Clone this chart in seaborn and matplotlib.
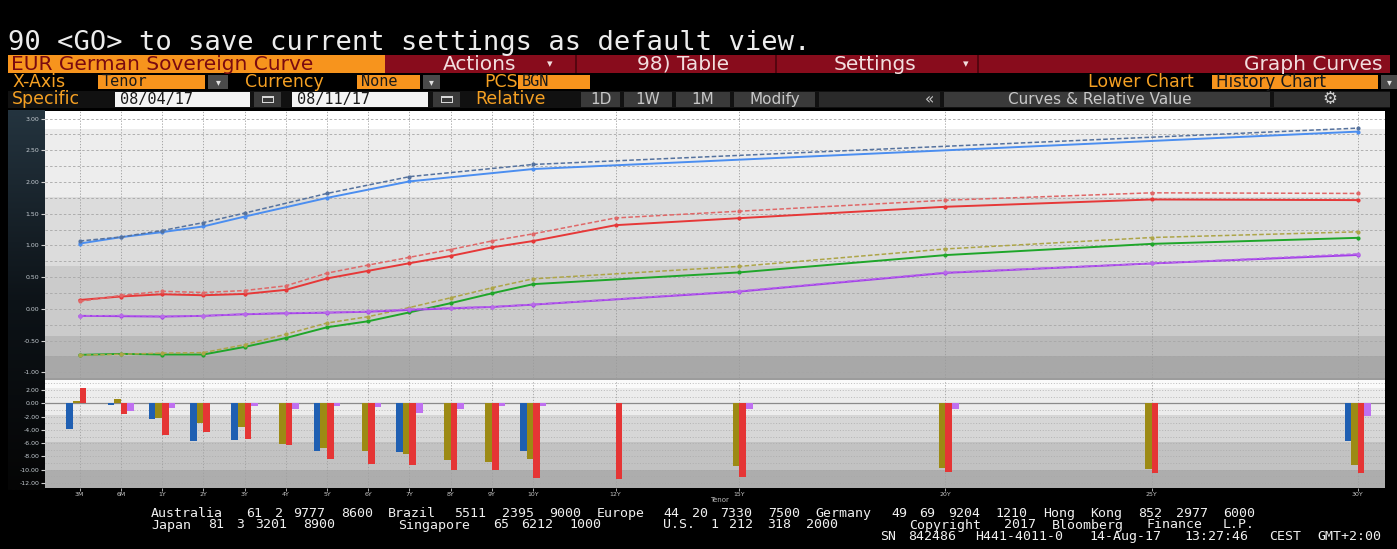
import numpy as np
import pandas as pd
import matplotlib
matplotlib.use("Agg")
import matplotlib.pyplot as plt
from matplotlib.patches import Rectangle
from matplotlib.colors import LinearSegmentedColormap
from matplotlib.ticker import FormatStrFormatter, MultipleLocator
import seaborn as sns

nan = np.nan

# ---------------- data ----------------
TENORS = ["3M", "6M", "1Y", "2Y", "3Y", "4Y", "5Y", "6Y", "7Y", "8Y", "9Y",
          "10Y", "12Y", "15Y", "20Y", "25Y", "30Y"]
TENOR_POS = [-1, 0, 1, 2, 3, 4, 5, 6, 7, 8, 9, 10, 12, 15, 20, 25, 30]

# yields (%) on 08/11/17 (solid) and 08/04/17 (dashed)
BLUE_NEW = [1.03, 1.13, 1.21, 1.30, 1.455, nan, 1.75, nan, 2.01, nan, nan,
            2.205, nan, nan, nan, nan, 2.795]
BLUE_OLD = [1.07, 1.133, 1.235, 1.36, 1.51, nan, 1.82, nan, 2.085, nan, nan,
            2.277, nan, nan, nan, nan, 2.85]
RED_NEW = [0.14, 0.195, 0.23, 0.215, 0.235, 0.30, 0.48, 0.60, 0.72, 0.835,
           0.97, 1.07, 1.32, 1.43, 1.61, 1.725, 1.715]
RED_OLD = [0.118, 0.212, 0.278, 0.258, 0.289, 0.363, 0.564, 0.691, 0.813,
           0.936, 1.071, 1.183, 1.434, 1.54, 1.713, 1.83, 1.82]
GREEN_NEW = [-0.725, -0.71, -0.72, -0.72, -0.60, -0.46, -0.29, -0.195, -0.055,
             0.09, 0.245, 0.39, nan, 0.575, 0.848, 1.025, 1.12]
OLIVE_OLD = [-0.729, -0.716, -0.698, -0.69, -0.565, -0.40, -0.223, -0.123,
             0.021, 0.175, 0.333, 0.474, nan, 0.67, 0.945, 1.125, 1.215]
PURPLE_NEW = [-0.11, -0.115, -0.122, -0.11, -0.085, -0.07, -0.06, -0.045,
              -0.017, 0.009, 0.03, 0.067, nan, 0.273, 0.567, 0.716, 0.85]
PURPLE_OLD = [-0.11, -0.104, -0.115, -0.11, -0.081, -0.061, -0.056, -0.04,
              -0.003, 0.018, 0.033, 0.07, nan, 0.282, 0.576, 0.716, 0.869]

# changes (bp), lower history chart
BAR_BLUE = [-3.9, -0.3, -2.4, -5.6, -5.5, nan, -7.2, nan, -7.3, nan, nan,
            -7.2, nan, nan, nan, nan, -5.6]
BAR_OLIVE = [0.4, 0.6, -2.16, -3.0, -3.5, -6.1, -6.7, -7.2, -7.6, -8.5, -8.8,
             -8.4, nan, -9.45, -9.7, -9.95, -9.35]
BAR_RED = [2.26, -1.66, -4.8, -4.3, -5.4, -6.3, -8.4, -9.1, -9.3, -10.1,
           -10.1, -11.3, -11.4, -11.05, -10.3, -10.55, -10.45]
BAR_PURPLE = [nan, -1.1, -0.65, nan, -0.35, -0.9, -0.35, -0.5, -1.4, -0.9,
              -0.35, -0.35, nan, -0.9, -0.9, nan, -1.86]

UPPER_TICKS = [-1.0, -0.5, 0.0, 0.5, 1.0, 1.5, 2.0, 2.5, 3.0]
LOWER_TICKS = [-12, -10, -8, -6, -4, -2, 0, 2]

# ---------------- figure helpers ----------------
W, H = 1397, 549
fig = plt.figure(figsize=(W / 100, H / 100), dpi=100, facecolor="black")

def fx(x):
    return x / W

def fy(y):
    return 1 - y / H

def box(x0, y0, x1, y1, color, z=1):
    fig.add_artist(Rectangle((fx(x0), fy(y1)), (x1 - x0) / W, (y1 - y0) / H,
                             transform=fig.transFigure, facecolor=color,
                             edgecolor="none", zorder=z))

def label(x, y, s, **kw):
    kw.setdefault("va", "center")
    kw.setdefault("ha", "left")
    fig.text(fx(x), fy(y), s, **kw)

def words(x0, y, s, pitch, **kw):
    idx = 0
    for w in s.split(" "):
        if w:
            label(x0 + idx * pitch, y, w, va="baseline", **kw)
        idx += len(w) + 1

MONO = "DejaVu Sans Mono"
SANS = "DejaVu Sans"
ORANGE = "#f7941d"
ORANGE_TXT = "#f5a023"
DARKRED = "#880c1c"

# ---------------- header ----------------
label(8, 43, "90 <GO> to save current settings as default view.",
      family=MONO, fontsize=19.5, color="#ececec")

# row 2
box(8, 55, 385, 73, ORANGE)
label(11, 64.5, "EUR German Sovereign Curve", family=SANS, fontsize=14.5,
      color="#7a0a10")
box(385, 55, 1390, 73, DARKRED)
for xs in (576, 776, 978):
    box(xs - 1, 55, xs + 1, 73, "#55050f", z=2)
hdr = dict(family=SANS, fontsize=14.5, color="#f2dede", zorder=3)
label(480, 64.5, "Actions", ha="center", **hdr)
label(550, 64, "\u25be", ha="center", family=SANS, fontsize=8, color="#f2dede", zorder=3)
label(683, 64.5, "98) Table", ha="center", **hdr)
label(875, 64.5, "Settings", ha="center", **hdr)
label(966, 64, "\u25be", ha="center", family=SANS, fontsize=8, color="#f2dede", zorder=3)
label(1383, 64.5, "Graph Curves", ha="right", **hdr)

# row 3
r3 = 82
otxt = dict(family=SANS, fontsize=12.5, color=ORANGE_TXT)
btxt = dict(family=MONO, fontsize=11, color="#1a1a1a", zorder=3)
label(12, r3, "X-Axis", **otxt)
box(98, 75, 205, 89, ORANGE)
label(102, r3, "Tenor", **btxt)
box(208, 75, 228, 89, "#4a4a4a")
label(218, r3, "\u25be", ha="center", family=SANS, fontsize=7, color="#e0e0e0", zorder=3)
label(245, r3, "Currency", **otxt)
box(357, 75, 420, 89, ORANGE)
label(361, r3, "None", **btxt)
box(423, 75, 440, 89, "#4a4a4a")
label(431.5, r3, "\u25be", ha="center", family=SANS, fontsize=7, color="#e0e0e0", zorder=3)
label(484, r3, "PCS", **otxt)
box(518, 75, 590, 89, ORANGE)
label(522, r3, "BGN", **btxt)
label(1088, r3, "Lower Chart", **otxt)
box(1212, 75, 1378, 89, ORANGE)
label(1216, r3, "History Chart", family=SANS, fontsize=12, color="#1a1a1a", zorder=3)
box(1381, 75, 1397, 89, "#4a4a4a")
label(1389, r3, "\u25be", ha="center", family=SANS, fontsize=7, color="#e0e0e0", zorder=3)

# row 4
r4 = 99.5
box(8, 91, 1390, 108, "#111111", z=0.5)
label(12, r4, "Specific", **otxt)
box(115, 92, 250, 107, "#f4f4f4")
label(120, r4, "08/04/17", **btxt)
box(254, 92, 281, 107, "#3a3a3a")
box(262, 96, 274, 103, "#d8d8d8", z=2)
box(263, 98, 273, 102, "#3a3a3a", z=3)
box(292, 92, 428, 107, "#f4f4f4")
label(297, r4, "08/11/17", **btxt)
box(433, 92, 460, 107, "#3a3a3a")
box(441, 96, 453, 103, "#d8d8d8", z=2)
box(442, 98, 452, 102, "#3a3a3a", z=3)
label(475, r4, "Relative", **otxt)
gtxt = dict(family=SANS, fontsize=11, color="#c8c8c8", zorder=3)
for (a, b, t) in [(581, 620, "1D"), (624, 672, "1W"), (676, 730, "1M"),
                  (734, 815, "Modify")]:
    box(a, 92, b, 107, "#3a3a3a")
    label((a + b) / 2, r4, t, ha="center", **gtxt)
box(819, 92, 940, 107, "#2a2a2a")
label(930, r4, "\u00ab", ha="center", **gtxt)
box(944, 92, 1270, 107, "#3a3a3a")
label(1100, r4, "Curves & Relative Value", ha="center", **gtxt)
box(1274, 92, 1390, 107, "#2e2e2e")
label(1330, r4, "\u2699", ha="center", family=SANS, fontsize=12, color="#d0d0d0", zorder=3)

# ---------------- left label panel ----------------
pan = fig.add_axes([fx(8), fy(490), (45 - 8) / W, (490 - 110) / H])
grad = np.linspace(0, 1, 256).reshape(-1, 1)
pcmap = LinearSegmentedColormap.from_list("p", ["#24343f", "#0d1318", "#050505"])
pan.imshow(grad, aspect="auto", cmap=pcmap, extent=[0, 1, 0, 1], origin="upper")
pan.axis("off")

# ---------------- upper chart ----------------
ax1 = fig.add_axes([fx(45), fy(378), (1385 - 45) / W, (378 - 111) / H])
ax1.set_facecolor("#cccccc")
bands_up = [(2.84, 3.2, "#ffffff"), (1.76, 2.84, "#ededed"),
            (0.67, 1.76, "#dcdcdc"), (-0.42, 0.67, "#cbcbcb"),
            (-0.75, -0.42, "#b9b9b9"), (-1.2, -0.75, "#a8a8a8")]
for lo, hi, c in bands_up:
    ax1.axhspan(lo, hi, color=c, lw=0, zorder=0)

line_series = [
    (BLUE_NEW, "#4b8ef0", "-", 1.4),
    (BLUE_OLD, "#55729e", (0, (3, 1.5)), 1.1),
    (RED_NEW, "#e63838", "-", 1.4),
    (RED_OLD, "#df6868", (0, (3, 1.5)), 1.1),
    (GREEN_NEW, "#1fa62a", "-", 1.4),
    (OLIVE_OLD, "#ada548", (0, (3, 1.5)), 1.1),
    (PURPLE_NEW, "#a23ee8", "-", 1.4),
    (PURPLE_OLD, "#b86be8", (0, (3, 1.5)), 1.0),
]
for vals, color, ls, lw in line_series:
    d = pd.DataFrame({"pos": TENOR_POS, "value": vals}).dropna()
    sns.lineplot(data=d, x="pos", y="value", color=color, linestyle=ls, lw=lw,
                 marker="o", markersize=3, markeredgewidth=0, ax=ax1,
                 zorder=3)

ax1.set_xlim(-1.84, 30.66)
ax1.set_ylim(-1.09, 3.12)
ax1.set_xticks(TENOR_POS)
ax1.tick_params(axis="x", length=0, labelbottom=False)
ax1.set_yticks(UPPER_TICKS)
ax1.yaxis.set_minor_locator(MultipleLocator(0.25))
ax1.yaxis.set_major_formatter(FormatStrFormatter("%.2f"))
ax1.tick_params(axis="y", which="major", labelsize=4.5, labelcolor="#c5ccd2",
                color="#d0d0d0", length=3, width=0.8, pad=1)
ax1.tick_params(axis="y", which="minor", length=0)
ax1.set_axisbelow(True)
ax1.grid(axis="x", color="#9a9a9a", lw=0.6, ls=(0, (1.5, 2)))
ax1.grid(axis="y", which="both", color="#a6a6a6", lw=0.6, ls=(0, (3, 2.5)))
ax1.set_xlabel("")
ax1.set_ylabel("")
for s in ax1.spines.values():
    s.set_visible(False)

box(45, 378, 1385, 380, "#9c9c9c", z=2)

# ---------------- lower chart ----------------
ax2 = fig.add_axes([fx(45), fy(488), (1385 - 45) / W, (488 - 380) / H])
ax2.set_facecolor("#c2c2c2")
bands_lo = [(2.25, 4, "#fafafa"), (-1.76, 2.25, "#ececec"),
            (-5.8, -1.76, "#d6d6d6"), (-10.0, -5.8, "#c2c2c2"),
            (-14, -10.0, "#adadad")]
for lo, hi, c in bands_lo:
    ax2.axhspan(lo, hi, color=c, lw=0, zorder=0)

bars = pd.DataFrame({
    "pos": TENOR_POS * 4,
    "change": BAR_BLUE + BAR_OLIVE + BAR_RED + BAR_PURPLE,
    "curve": ["blue"] * 17 + ["olive"] * 17 + ["red"] * 17 + ["purple"] * 17,
}).dropna()
sns.barplot(data=bars, x="pos", y="change", hue="curve",
            hue_order=["blue", "olive", "red", "purple"],
            palette={"blue": "#1f5fb2", "olive": "#9c8a14",
                     "red": "#e53535", "purple": "#bf70f0"},
            native_scale=True, width=0.64, errorbar=None, linewidth=0,
            saturation=1, legend=False, ax=ax2, zorder=3)
ax2.axhline(0, color="#8a8a8a", lw=0.9, zorder=2)

ax2.set_xlim(-1.84, 30.66)
ax2.set_ylim(-12.74, 3.5)
ax2.set_xticks(TENOR_POS)
ax2.set_xticklabels(TENORS)
ax2.tick_params(axis="x", labelsize=4.5, labelcolor="#c8c8c8", length=2,
                color="#c8c8c8", width=0.6, pad=1)
ax2.set_yticks(LOWER_TICKS)
ax2.yaxis.set_minor_locator(MultipleLocator(1))
ax2.yaxis.set_major_formatter(FormatStrFormatter("%.2f"))
ax2.tick_params(axis="y", which="major", labelsize=4.5, labelcolor="#c5ccd2",
                color="#d0d0d0", length=3, width=0.8, pad=1)
ax2.tick_params(axis="y", which="minor", length=0)
ax2.set_axisbelow(True)
ax2.grid(axis="x", color="#a0a0a0", lw=0.6, ls=(0, (1.5, 2)))
ax2.grid(axis="y", which="both", color="#a8a8a8", lw=0.5, ls=(0, (1.5, 2.5)))
ax2.set_xlabel("")
ax2.set_ylabel("")
for s in ax2.spines.values():
    s.set_visible(False)

label(720, 500, "Tenor", ha="center", family=SANS, fontsize=5, color="#bcbcbc")

# ---------------- footer ----------------
ftxt = dict(family=MONO, fontsize=9.5, color="#f0f0f0")
P = 9.5
for x, s in [(151, "Australia 61 2 9777 8600"), (388, "Brazil 5511 2395 9000"),
             (597, "Europe 44 20 7330 7500"), (815, "Germany 49 69 9204 1210"),
             (1043, "Hong Kong 852 2977 6000")]:
    words(x, 517, s, P, **ftxt)
for x, s in [(151, "Japan 81 3 3201 8900"), (398, "Singapore 65 6212 1000"),
             (663, "U.S. 1 212 318 2000"),
             (909, "Copyright 2017 Bloomberg Finance L.P.")]:
    words(x, 528.5, s, P, **ftxt)
words(880, 540, "SN 842486 H441-4011-0 14-Aug-17 13:27:46 CEST GMT+2:00", P, **ftxt)

fig.savefig("out.png", dpi=100, facecolor="black")
